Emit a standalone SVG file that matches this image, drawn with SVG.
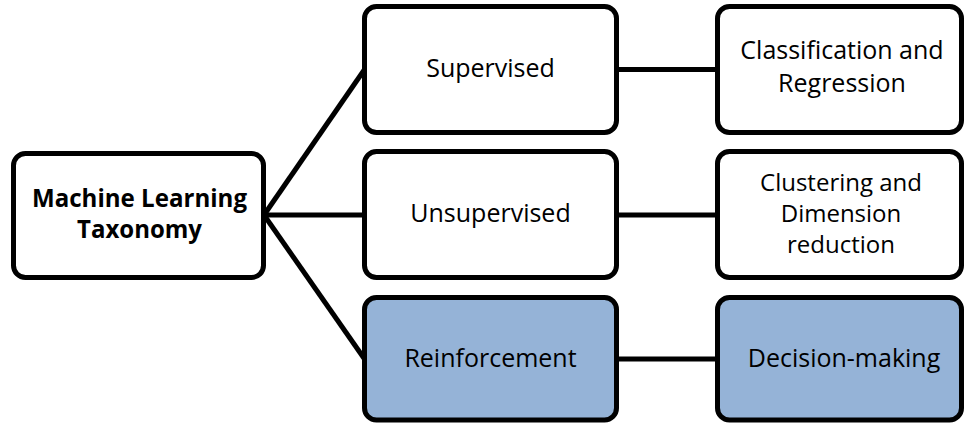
<svg xmlns="http://www.w3.org/2000/svg" width="966" height="423" viewBox="0 0 966 423">
  <style>
    .box { fill: #ffffff; stroke: #000000; stroke-width: 5; }
    .box.hl { fill: #95b3d7; }
    .lbl { font-family: "Open Sans", "Liberation Sans", sans-serif; font-size: 25px; fill: #000000; text-anchor: middle; }
    .lbl.b { font-weight: bold; font-size: 25px; }
    .lbl.s { font-size: 24px; }
    .wire { stroke: #000000; stroke-width: 5; fill: none; }
  </style>
  <rect width="966" height="423" fill="#ffffff"/>

  <!-- connectors -->
  <g id="connectors">
    <line class="wire" x1="264" y1="215" x2="364.5" y2="69.5"/>
    <line class="wire" x1="264" y1="215" x2="364.5" y2="215"/>
    <line class="wire" x1="264" y1="215" x2="364.5" y2="359"/>
    <line class="wire" x1="616.5" y1="69.5" x2="717.5" y2="69.5"/>
    <line class="wire" x1="616.5" y1="215" x2="717.5" y2="215"/>
    <line class="wire" x1="616.5" y1="359" x2="717.5" y2="359"/>
  </g>

  <!-- root -->
  <g id="root">
    <rect class="box" x="13.5" y="153.5" width="250" height="124" rx="12"/>
    <text class="lbl b" x="139.5" y="207" textLength="215" lengthAdjust="spacingAndGlyphs">Machine Learning</text>
    <text class="lbl b" x="139.5" y="238" textLength="125" lengthAdjust="spacingAndGlyphs">Taxonomy</text>
  </g>

  <!-- learning paradigms -->
  <g id="supervised">
    <rect class="box" x="364.5" y="6.5" width="252" height="126" rx="12"/>
    <text class="lbl" x="490.5" y="77">Supervised</text>
  </g>
  <g id="unsupervised">
    <rect class="box" x="364.5" y="151.5" width="252" height="126" rx="12"/>
    <text class="lbl" x="490.5" y="222">Unsupervised</text>
  </g>
  <g id="reinforcement">
    <rect class="box hl" x="364.5" y="297.5" width="252" height="122.5" rx="12"/>
    <text class="lbl" x="490.5" y="367">Reinforcement</text>
  </g>

  <!-- tasks -->
  <g id="classification">
    <rect class="box" x="717.5" y="6.5" width="244" height="126" rx="12"/>
    <text class="lbl" x="842" y="59">Classification and</text>
    <text class="lbl" x="842" y="92">Regression</text>
  </g>
  <g id="clustering">
    <rect class="box" x="717.5" y="151.5" width="244" height="126" rx="12"/>
    <text class="lbl s" x="841" y="191">Clustering and</text>
    <text class="lbl s" x="841" y="222">Dimension</text>
    <text class="lbl s" x="841" y="253">reduction</text>
  </g>
  <g id="decision">
    <rect class="box hl" x="717.5" y="297.5" width="244" height="122.5" rx="12"/>
    <text class="lbl" x="844" y="367">Decision-making</text>
  </g>
</svg>
